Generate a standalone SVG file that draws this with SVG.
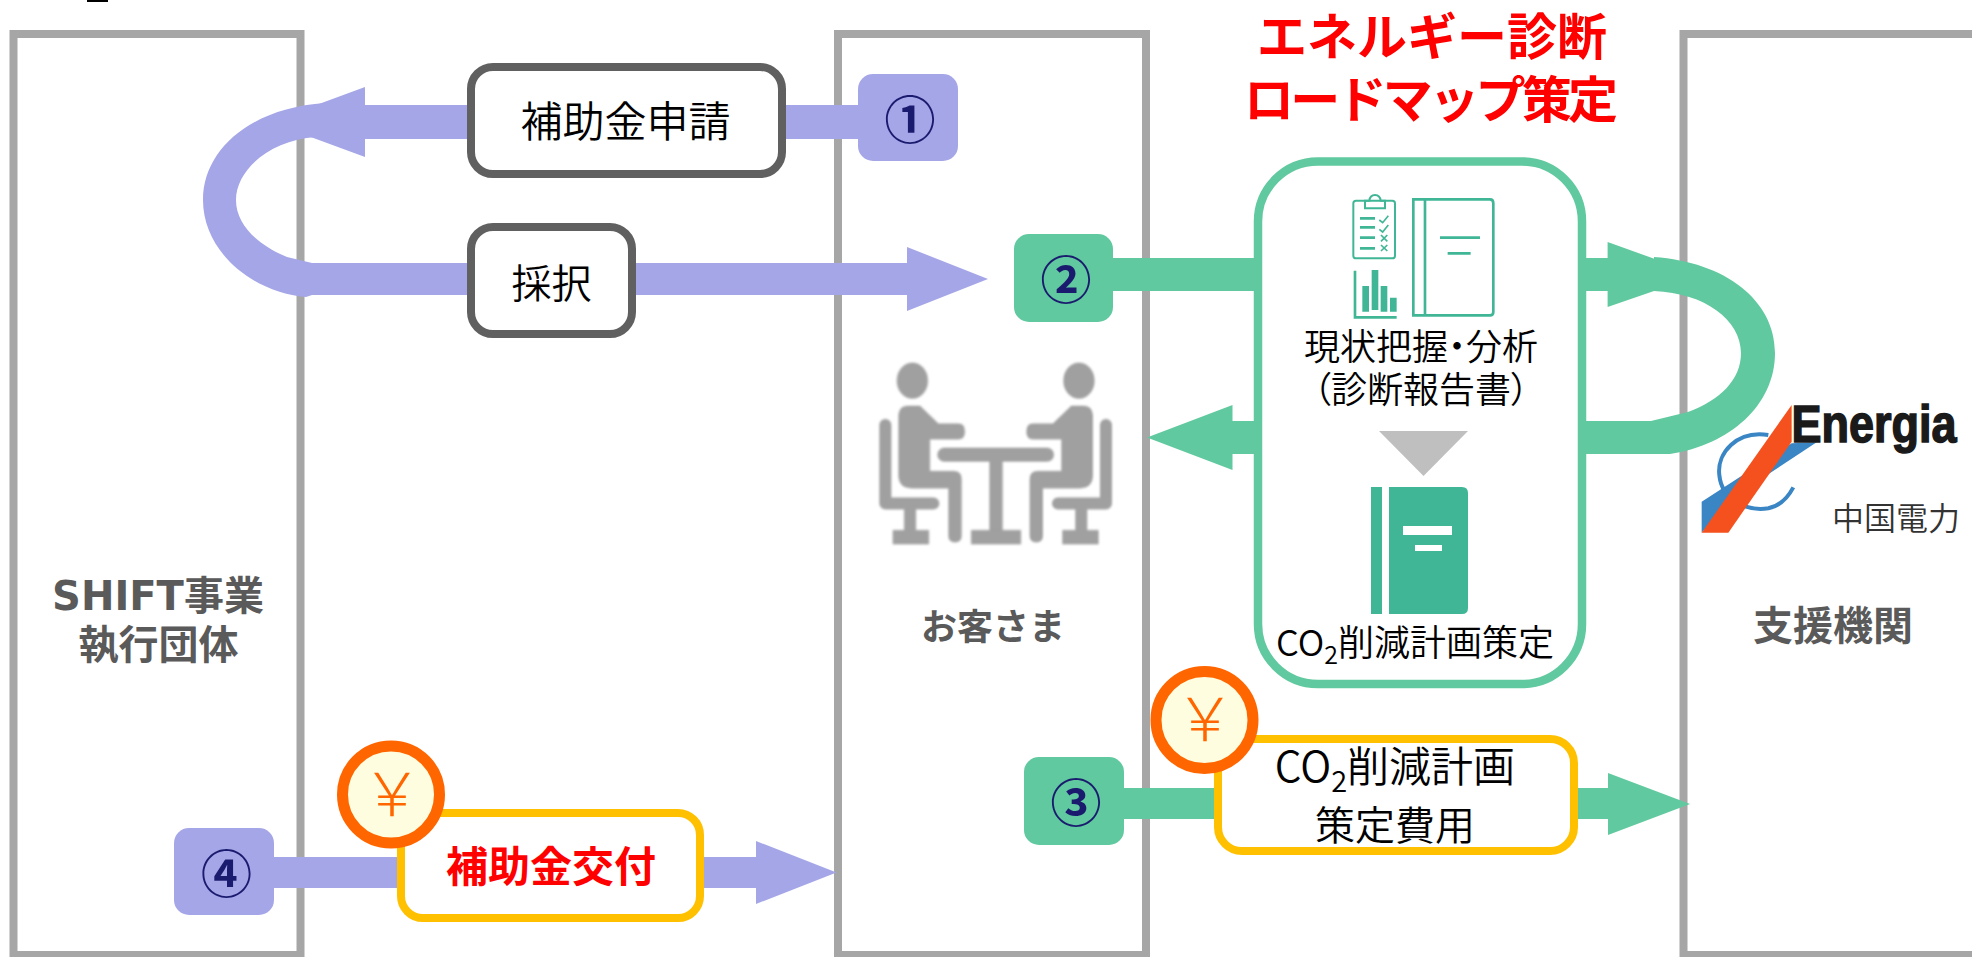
<svg xmlns="http://www.w3.org/2000/svg" width="1972" height="957" viewBox="0 0 1972 957">
<style>
text{font-family:"Noto Sans CJK JP","Noto Sans",sans-serif;text-anchor:middle}
.panel{fill:none;stroke:#a6a6a6;stroke-width:8}
.lav{fill:#a5a6e8}
.grn{fill:#60c99f}
.gbox{fill:#fff;stroke:#606060;stroke-width:8}
.ybox{fill:#fff;stroke:#ffc000;stroke-width:8}
.yen{fill:#fffde0;stroke:#ff6600;stroke-width:11}
.yent{fill:#ff6600;font-size:60px;font-weight:300}
.num{fill:#1a1a6e;font-size:51px;font-weight:700}
.lbl{fill:#000;font-size:42px;font-weight:350}
.lbl2{fill:#000;font-size:36px;font-weight:350}
.side{fill:#5a5a5a;font-size:40px;font-weight:700}
.red{fill:#f00;font-weight:700}
.ico{fill:none;stroke:#40b696}
.p{fill:#a0a0a0}
</style>
<defs>
<filter id="soft" x="-5%" y="-5%" width="110%" height="110%"><feGaussianBlur stdDeviation="2.5"/></filter>
<g id="sitter">
<ellipse cx="187" cy="122" rx="47" ry="54"/>
<path d="M145 225Q147 197 175 197H210L265 250H325Q345 250 345 275Q345 298 325 298H240V393H310Q335 393 335 418V588Q335 607 315 607Q295 607 295 588V445H185Q145 445 145 405Z"/>
<path d="M106 255V490H250" fill="none" stroke="#a0a0a0" stroke-width="36" stroke-linecap="round" stroke-linejoin="round"/>
<rect x="162" y="500" width="36" height="75"/>
<rect x="128" y="570" width="109" height="43"/>
</g>
</defs>
<rect x="87" y="0" width="21" height="2" fill="#000"/>
<g id="panels">
<rect id="panel-shift" class="panel" x="13.5" y="34" width="287" height="921"/>
<rect id="panel-customer" class="panel" x="838" y="34" width="308" height="921"/>
<rect id="panel-support" class="panel" x="1683.5" y="34" width="300" height="921"/>
</g>
<g id="connectors">
<path class="lav" d="M858 105H365V87L270 122L365 157V139H858Z"/>
<path class="lav" d="M325 103C250 108 203 150 203 200C203 250 250 292 306 297L312 295H907V311L988 279L907 247V263H312L287 257C258 245 236 225 236 200C236 170 270 140 316 137Z"/>
<path class="grn" d="M1113 258H1260V291H1113Z"/>
<path class="grn" d="M1586 258H1607.6V242L1698 274.5L1654 291L1607.6 307V291H1586Z"/>
<path class="grn" d="M1654 257C1725 262 1775 300 1775 353C1775 405 1730 445 1670 454H1586V421H1651L1688 412C1720 400 1741 380 1741 353C1741 320 1705 293 1654 291Z"/>
<path class="grn" d="M1260 421H1232.5V405L1147 437.5L1232.5 470V454H1260Z"/>
<path class="grn" d="M1124 788H1220V819H1124ZM1575 788H1608V773L1690 804L1608 835V819H1575Z"/>
<path class="lav" d="M274 857H400V888H274ZM700 857H756V841L836.5 872.5L756 904V888H700Z"/>
</g>
<g id="n1"><rect class="lav" x="858" y="74" width="100" height="87" rx="15"/><text class="num" x="910" y="139">①</text></g>
<g id="n2"><rect class="grn" x="1014" y="234" width="99" height="88" rx="15"/><text class="num" x="1066" y="299">②</text></g>
<g id="n3"><rect class="grn" x="1024" y="757" width="100" height="88" rx="15"/><text class="num" x="1076" y="822">③</text></g>
<g id="n4"><rect class="lav" x="174" y="828" width="100" height="87" rx="15"/><text class="num" x="226.500" y="893">④</text></g>
<g id="apply"><rect class="gbox" x="471" y="67" width="311" height="107" rx="22"/><text class="lbl" x="625.500" y="137">補助金申請</text></g>
<g id="adopt"><rect class="gbox" x="471" y="227" width="161" height="107" rx="22"/><text class="lbl" style="font-size:40px" x="551.500" y="298">採択</text></g>
<g id="title"><text class="red" font-size="50" x="1432" y="55">エネルギー診断</text><text class="red" font-size="50" textLength="374" x="1431" y="118">ロードマップ策定</text></g>
<g id="diagnosis">
<rect x="1258" y="161.500" width="324" height="522.500" rx="60" fill="#fff" stroke="#60c99f" stroke-width="8.500"/>
<g transform="translate(1330 180) scale(.3333)">
<rect class="ico" x="70" y="62" width="125" height="173" rx="8" stroke-width="6"/>
<path class="ico" stroke-width="6" d="M105 85V62H118Q120 45 135 45Q150 45 152 62H165V85Z" fill="#fff"/>
<path class="ico" stroke-width="8" d="M90 115H135M90 142H135M90 173H135M90 205H135M250 58H480Q490 58 490 70V396Q490 406 480 406H250ZM285 58V406M330 173H450M353 220H422"/>
<path class="ico" stroke-width="5" d="M148 120L158 128L175 107M148 148L158 156L175 135M153 165L172 184M172 165L153 184M153 195L172 213M172 195L153 213"/>
<path class="ico" stroke-width="8" d="M75 272V412H200"/>
<path fill="#40b696" d="M97 318H117V395H97ZM125 270H145V390H125ZM152 318H172V395H152ZM180 353H200V395H180Z"/>
</g>
<text class="lbl2" x="1421" y="360" style="font-feature-settings:'palt'">現状把握・分析</text>
<text class="lbl2" x="1421" y="403" style="font-feature-settings:'palt'">（診断報告書）</text>
<path fill="#bfbfbf" d="M1379 431H1468L1423.500 476Z"/>
<path fill="#40b696" d="M1371 487H1382V614H1371ZM1389 487H1462Q1468 487 1468 493V608Q1468 614 1462 614H1389Z"/>
<path fill="#fff" d="M1403 526H1452V535H1403ZM1415 545H1442V551H1415Z"/>
<text class="lbl2" x="1415" y="656">CO<tspan font-size="25" dy="8">2</tspan><tspan dy="-8">削減計画策定</tspan></text>
</g>
<g id="people" class="p" filter="url(#soft)" transform="translate(850 340) scale(.3333)">
<use href="#sitter"/>
<use href="#sitter" transform="translate(874 0) scale(-1 1)"/>
<rect x="262" y="323" width="350" height="42" rx="21"/>
<rect x="418" y="360" width="40" height="215"/>
<rect x="363" y="570" width="150" height="43"/>
</g>
<g id="cost"><rect class="ybox" x="1218" y="739" width="356" height="112" rx="24"/>
<text class="lbl" x="1395" y="782">CO<tspan font-size="29" dy="10">2</tspan><tspan dy="-10">削減計画</tspan></text>
<text class="lbl" style="font-size:40px" x="1395" y="840">策定費用</text></g>
<g id="yen1"><circle class="yen" cx="1204.500" cy="720" r="48.500"/><text class="yent" x="1205" y="741">￥</text></g>
<g id="grant"><rect class="ybox" x="401" y="813" width="299" height="105" rx="22"/><text class="red" font-size="42" x="551" y="882">補助金交付</text></g>
<g id="yen2"><circle class="yen" cx="391" cy="794.500" r="48.500"/><text class="yent" x="392" y="816">￥</text></g>
<g id="label-shift"><text class="side" x="158" y="610"><tspan style="font-family:'DejaVu Sans',sans-serif">SHIFT</tspan>事業</text><text class="side" x="158.500" y="658.500">執行団体</text></g>
<g id="label-customer"><text class="side" style="font-size:36px" x="993" y="640">お客さま</text></g>
<g id="label-support"><text class="side" x="1833" y="640">支援機関</text></g>
<g id="logo" transform="translate(1680 380) scale(.3333)">
<path fill="#3a85c4" d="M65 365L335 190L410 187L150 358L65 458Z"/>
<path fill="none" stroke="#3a85c4" stroke-width="12" d="M265 165C170 150 110 220 118 285C125 360 200 395 265 385C300 378 325 350 340 322"/>
<path fill="#f4511e" d="M335 75V185L145 458H65Z"/>
</g>
<g id="logo-text">
<text x="1874" y="441.700" font-size="51" textLength="165" lengthAdjust="spacingAndGlyphs" style="font-family:'Liberation Sans',sans-serif;font-weight:700;fill:#1a1a1a;stroke:#1a1a1a;stroke-width:1.500">Energia</text>
<text x="1896" y="530" font-size="32" style="fill:#333;font-weight:350">中国電力</text>
</g>
</svg>
